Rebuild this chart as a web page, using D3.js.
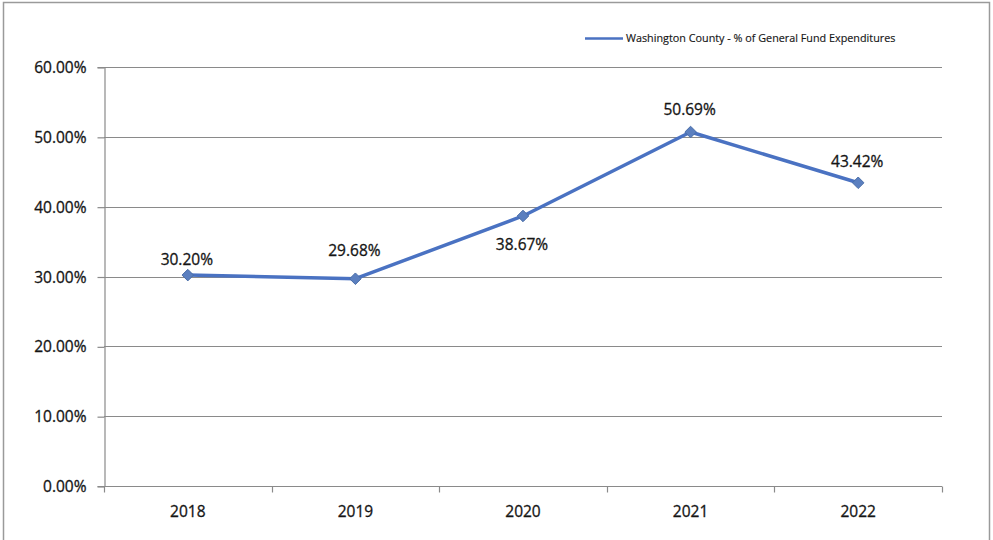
<!DOCTYPE html>
<html>
<head>
<meta charset="utf-8">
<script src="https://cdn.jsdelivr.net/npm/d3@7"></script>
<style>
  html, body { margin: 0; padding: 0; background: #fff; }
  svg { display: block; }
  text { font-family: "Open Sans", "Liberation Sans", sans-serif; fill: #151515;
         stroke: #151515; stroke-width: 0.3px; }
</style>
</head>
<body>
<script>
// Washington County share of General Fund expenditures
const years = ["2018", "2019", "2020", "2021", "2022"];
const shares = [30.20, 29.68, 38.67, 50.69, 43.42];
const yTicks = [0, 10, 20, 30, 40, 50, 60];
const seriesName = "Washington County - % of General Fund Expenditures";

const W = 993, H = 540;
const plot = { left: 104, right: 942, top: 67, bottom: 486 };
const lineColor = "#4a72c2";
const markerColor = "#5b7fbf";
const labelSize = 15.5;

const svg = d3.select("body").append("svg").attr("width", W).attr("height", H);

// outer chart frame
svg.append("rect")
  .attr("x", 3.5).attr("y", 2.5).attr("width", 986).attr("height", 560)
  .attr("fill", "#fff").attr("stroke", "#9a9a9a").attr("stroke-width", 1.5);

const x = d3.scaleBand().domain(years).range([plot.left, plot.right]);
const y = d3.scaleLinear().domain([0, 60]).range([plot.bottom, plot.top]);

// horizontal gridlines
svg.append("g").selectAll("line").data(yTicks.filter(d => d > 0)).join("line")
  .attr("x1", plot.left).attr("x2", plot.right)
  .attr("y1", d => Math.round(y(d)) + 0.5).attr("y2", d => Math.round(y(d)) + 0.5)
  .attr("stroke", "#8a8a8a").attr("stroke-width", 1.2);

// y axis
const yAxis = svg.append("g").attr("transform", `translate(${plot.left + 0.5},0)`)
  .call(d3.axisLeft(y).tickValues(yTicks).tickSize(7).tickPadding(11)
    .tickFormat(d => d.toFixed(2) + "%"));
yAxis.select(".domain").attr("stroke", "#8a8a8a").attr("stroke-width", 1.2);
yAxis.selectAll(".tick line").attr("stroke", "#8a8a8a").attr("stroke-width", 1.2)
  .attr("transform", "translate(0,0.5)");
yAxis.selectAll("text").attr("font-size", labelSize).attr("fill", "#151515")
  .attr("dy", "0.36em").style("font-family", "'Open Sans', sans-serif");

// x axis: ticks sit on category boundaries
const xAxisG = svg.append("g").attr("transform", `translate(0,${plot.bottom + 0.5})`);
xAxisG.append("line").attr("x1", plot.left).attr("x2", plot.right)
  .attr("stroke", "#8a8a8a").attr("stroke-width", 1.2);
const bounds = years.map(d => x(d)).concat([x(years[years.length - 1]) + x.bandwidth()]);
xAxisG.selectAll("line.tk").data(bounds).join("line").attr("class", "tk")
  .attr("x1", d => Math.round(d) + 0.5).attr("x2", d => Math.round(d) + 0.5)
  .attr("y1", 0).attr("y2", 6)
  .attr("stroke", "#8a8a8a").attr("stroke-width", 1.2);
xAxisG.selectAll("text").data(years).join("text")
  .attr("x", d => x(d) + x.bandwidth() / 2).attr("y", 30)
  .attr("text-anchor", "middle").attr("font-size", labelSize).text(d => d);

// series line
const pts = years.map((d, i) => [x(d) + x.bandwidth() / 2, y(shares[i])]);
svg.append("path").datum(pts)
  .attr("d", d3.line())
  .attr("fill", "none").attr("stroke", lineColor).attr("stroke-width", 3.5)
  .attr("stroke-linejoin", "round");

// diamond markers
svg.append("g").selectAll("path").data(pts).join("path")
  .attr("transform", d => `translate(${d[0]},${d[1]})`)
  .attr("d", d3.symbol(d3.symbolDiamond2, 85))
  .attr("fill", markerColor).attr("stroke", "#4a6ea8").attr("stroke-width", 1);

// value labels (2020 label sits under its point)
const labelDy = [-16, -28, 29, -22, -21];
svg.append("g").selectAll("text").data(shares).join("text")
  .attr("x", (d, i) => pts[i][0] - 1)
  .attr("y", (d, i) => pts[i][1] + labelDy[i])
  .attr("dy", "0.35em").attr("text-anchor", "middle")
  .attr("font-size", labelSize).text(d => d.toFixed(2) + "%");

// legend
const lg = svg.append("g").attr("transform", "translate(585,38.5)");
lg.append("line").attr("x1", 0).attr("x2", 38).attr("y1", 0).attr("y2", 0)
  .attr("stroke", lineColor).attr("stroke-width", 2.5);
lg.append("text").attr("x", 41).attr("y", 0).attr("dy", "0.35em")
  .attr("font-size", 10.8).style("stroke-width", "0.15px").text(seriesName);
</script>
</body>
</html>
